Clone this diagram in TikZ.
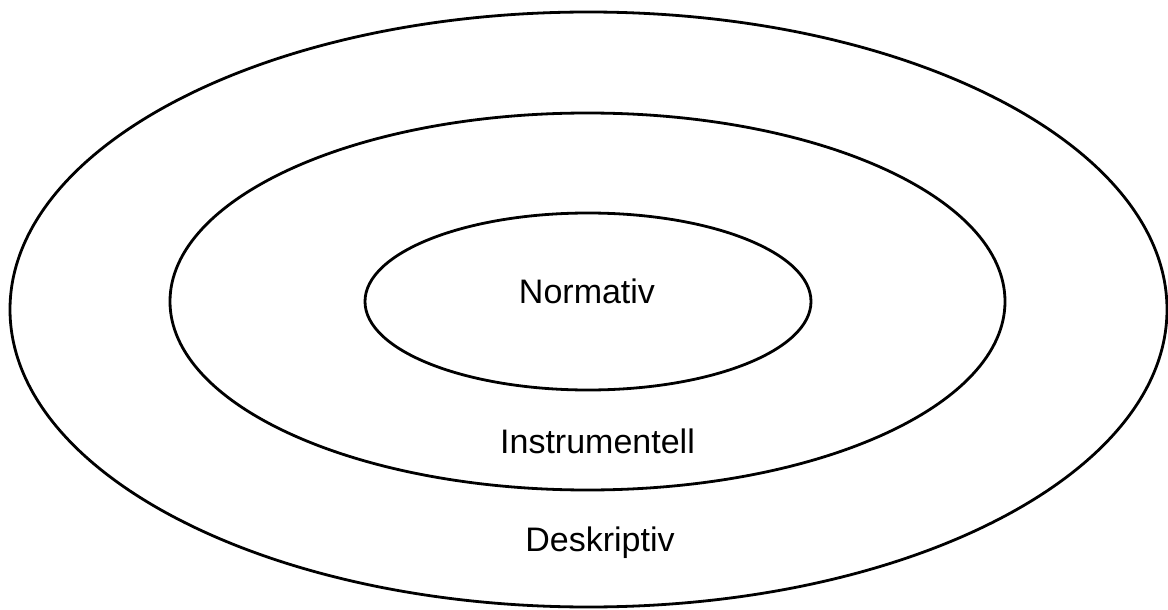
\documentclass[tikz,border=0pt]{standalone}
\usepackage{fontspec}
\setmainfont{Liberation Sans}
\usetikzlibrary{shapes.geometric}
\begin{document}
\begin{tikzpicture}[x=1pt,y=-1pt,
  ring/.style={draw=black,line width=2.8pt,ellipse,inner sep=0pt},
  lbl/.style={anchor=base,font=\fontsize{34}{40}\selectfont,inner sep=0pt}]
\useasboundingbox (0,0) rectangle (1168,610);
\node[ring,minimum width=1157pt,minimum height=595pt] (outer) at (588.5,309.5) {};
\node[ring,minimum width=835pt,minimum height=377pt] (middle) at (587.5,301.5) {};
\node[ring,minimum width=446pt,minimum height=177pt] (inner) at (588,301.5) {};
\node[lbl] (norm) at (587,303) {Normativ};
\node[lbl] (instr) at (597.5,453) {Instrumentell};
\node[lbl] (desk) at (600,551) {Deskriptiv};
\end{tikzpicture}
\end{document}
